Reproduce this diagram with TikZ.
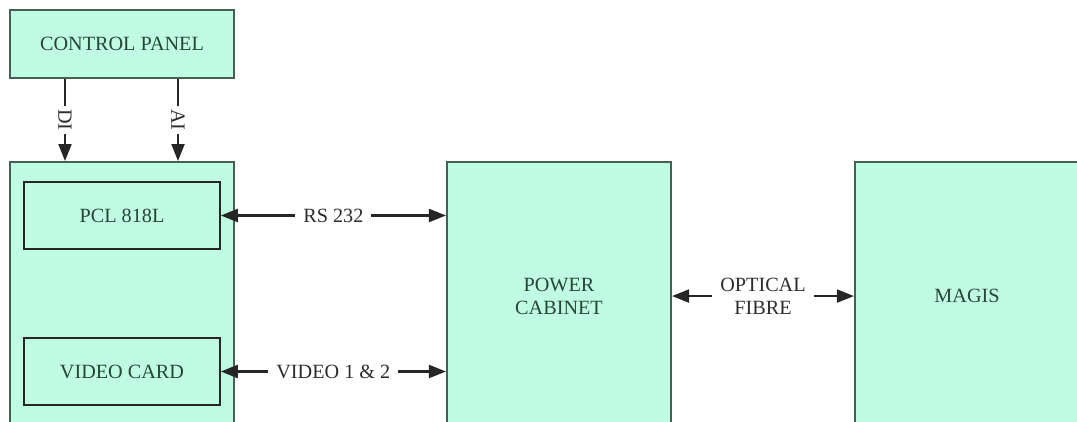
\documentclass[tikz,border=0pt]{standalone}
\usepackage{fontspec}
\setmainfont{Liberation Serif}
\usetikzlibrary{arrows.meta}
\definecolor{mint}{RGB}{192,252,228}
\definecolor{boxline}{RGB}{70,96,84}
\definecolor{boxtext}{RGB}{38,70,56}
\definecolor{lbltext}{RGB}{45,45,45}
\begin{document}
\begin{tikzpicture}[
    font=\fontsize{11.5}{13}\selectfont,
    >={Triangle[length=0.34cm,width=0.26cm]},
    bigbox/.style={draw=boxline, line width=1.2pt, fill=mint, rectangle, minimum width=4.48cm, text=boxtext, align=center},
    cardbox/.style={draw=black!85, line width=0.9pt, fill=mint, rectangle, minimum width=3.92cm, minimum height=1.34cm, text=boxtext},
    link/.style={line width=1.2pt, black!85},
    lbl/.style={fill=white, text=lbltext, inner sep=4.5pt, align=center}
]
    \useasboundingbox (0,0) rectangle (21.54,8.42);
    \clip (0,0) rectangle (21.54,8.42);

    % Control panel
    \node[bigbox, minimum height=1.36cm] (control) at (2.44,7.54) {CONTROL PANEL};

    % PC
    \node[bigbox, minimum height=5.36cm, anchor=north] (pc) at (2.44,5.2) {};
    \node[cardbox] (pcl) at (2.44,4.11) {PCL 818L};
    \node[cardbox] (video) at (2.44,0.99) {VIDEO CARD};

    % Power cabinet
    \node[bigbox, minimum height=5.36cm, anchor=north] (power) at (11.18,5.2) {POWER\\CABINET};

    % Magis
    \node[bigbox, minimum height=5.36cm, anchor=north] (magis) at (19.34,5.2) {MAGIS};

    % Arrows
    \draw[link, ->] ([xshift=-1.14cm]control.south) -- ([xshift=-1.14cm]control.south |- pc.north) node[lbl, midway, rotate=-90, inner sep=2pt] {DI};
    \draw[link, ->] ([xshift=1.12cm]control.south) -- ([xshift=1.12cm]control.south |- pc.north) node[lbl, midway, rotate=-90, inner sep=2pt] {AI};
    \draw[link, <->] (pcl.east) -- (pcl.east -| power.west) node[lbl, midway] {RS 232};
    \draw[link, <->] (video.east) -- (video.east -| power.west) node[lbl, midway] {VIDEO 1 \& 2};
    \draw[link, <->] (power.east) -- (magis.west) node[lbl, midway] {OPTICAL\\FIBRE};
\end{tikzpicture}
\end{document}
